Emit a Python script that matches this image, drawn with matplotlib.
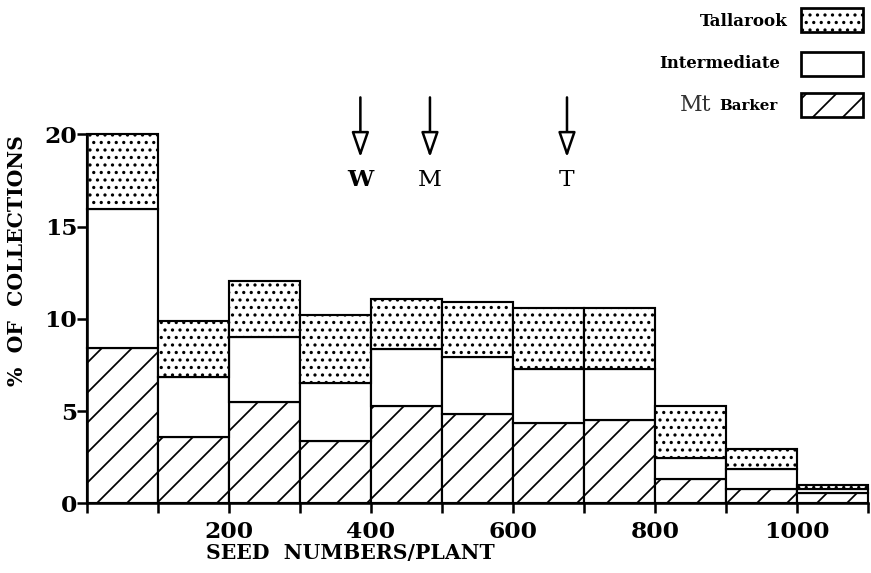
import matplotlib
matplotlib.use("Agg")
from matplotlib import pyplot as plt
from matplotlib.patches import Rectangle, FancyArrowPatch, ArrowStyle

# bin edges (seed numbers per plant) and % of collections per group
bin_left = [0, 100, 200, 300, 400, 500, 600, 700, 800, 900, 1000]
mt_barker = [8.4, 3.6, 5.5, 3.4, 5.3, 4.85, 4.35, 4.5, 1.3, 0.75, 0.55]
intermediate = [7.55, 3.25, 3.5, 3.1, 3.05, 3.1, 2.95, 2.8, 1.15, 1.1, 0.25]
tallarook = [4.05, 3.05, 3.05, 3.7, 2.75, 2.95, 3.3, 3.3, 2.8, 1.1, 0.2]

# group means marked by arrows
means = [385, 483, 676]
mean_labels = ['W', 'M', 'T']

DPI = 180
k = 140 / DPI  # sizes below were tuned at 140 dpi


def pt(x):
    return x * k


plt.rcParams['font.family'] = 'DejaVu Serif'
plt.rcParams['hatch.linewidth'] = pt(0.9)

fig = plt.figure(figsize=(871 / DPI, 573 / DPI), dpi=DPI)
ax = fig.add_axes([0.0999, 0.1216, 0.8967, 0.644])

lw = pt(1.1)
ax.bar(bin_left, mt_barker, width=100, align='edge', color='white',
       edgecolor='black', linewidth=lw, hatch='//', clip_on=False)
bot2 = [a for a in mt_barker]
ax.bar(bin_left, intermediate, width=100, bottom=bot2, align='edge',
       color='white', edgecolor='black', linewidth=lw, clip_on=False)
bot3 = [a + b for a, b in zip(mt_barker, intermediate)]
ax.bar(bin_left, tallarook, width=100, bottom=bot3, align='edge',
       color='white', edgecolor='black', linewidth=lw, hatch='....', clip_on=False)

ax.set_xlim(0, 1100)
ax.set_ylim(0, 20)
for s in ['top', 'right']:
    ax.spines[s].set_visible(False)
for s in ['left', 'bottom']:
    ax.spines[s].set_linewidth(pt(1.3))

ax.set_xticks(range(0, 1101, 100))
ax.set_xticklabels(['' if v in (0, 100, 300, 500, 700, 900, 1100) or v % 200 else str(v)
                    for v in range(0, 1101, 100)])
ax.set_yticks([0, 5, 10, 15, 20])
ax.tick_params(axis='both', direction='out', length=pt(5), width=pt(1.3),
               labelsize=pt(12))
ax.tick_params(axis='x', pad=pt(4))
ax.tick_params(axis='y', pad=0)
for t in ax.get_xticklabels() + ax.get_yticklabels():
    t.set_fontweight('bold')

fig.text(0.402, 0.035, 'SEED  NUMBERS/PLANT', ha='center', va='center',
         fontsize=pt(10.5), fontweight='bold')
fig.text(0.02, 0.545, '%  OF  COLLECTIONS', ha='center', va='center',
         rotation=90, fontsize=pt(10.5), fontweight='bold')

# mean arrows
style = ArrowStyle('-|>', head_length=1.1, head_width=0.38)
for m, lab in zip(means, mean_labels):
    arr = FancyArrowPatch((m, 22.0), (m, 18.75), arrowstyle=style,
                          mutation_scale=pt(10), facecolor='white',
                          edgecolor='black', linewidth=pt(1.3), clip_on=False,
                          shrinkA=0, shrinkB=0)
    ax.add_patch(arr)
    ax.text(m, 17.55, lab, ha='center', va='center', fontsize=pt(12),
            fontweight='bold' if lab == 'W' else 'normal', clip_on=False)

# legend
W, H = 871.0, 573.0
boxes = [(8, '....'), (52, None), (93, '//')]
for ytop, hatch in boxes:
    r = Rectangle((801 / W, 1 - (ytop + 24) / H), 62 / W, 24 / H,
                  transform=fig.transFigure, facecolor='white',
                  edgecolor='black', linewidth=pt(1.4), hatch=hatch)
    fig.patches.append(r)
fig.text(788 / W, 1 - 21 / H, 'Tallarook', ha='right', va='center',
         fontsize=pt(8.6), fontweight='bold')
fig.text(780 / W, 1 - 63 / H, 'Intermediate', ha='right', va='center',
         fontsize=pt(8.5), fontweight='semibold')
fig.text(680 / W, 1 - 105 / H, 'Mt', ha='left', va='center',
         fontsize=pt(11.4), color='#333333')
fig.text(778 / W, 1 - 106 / H, 'Barker', ha='right', va='center',
         fontsize=pt(7.7), fontweight='bold')

fig.savefig('out.png', dpi=DPI)
